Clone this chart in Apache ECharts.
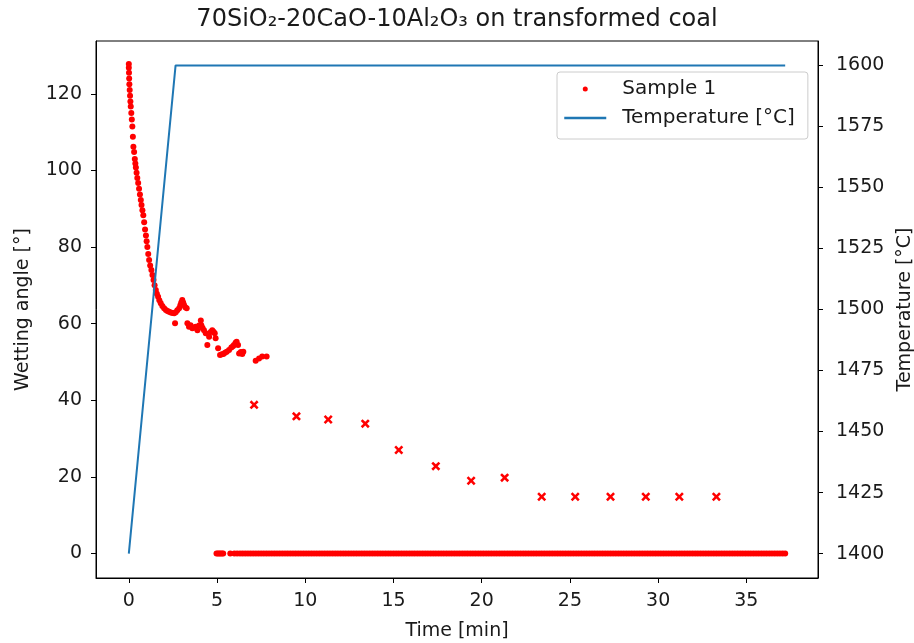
<!DOCTYPE html>
<html>
<head>
<meta charset="utf-8">
<script src="https://cdn.jsdelivr.net/npm/echarts@6/dist/echarts.min.js"></script>
<style>
  html, body { margin: 0; padding: 0; background: #ffffff; }
  #chart { width: 914px; height: 643px; }
</style>
</head>
<body>
<div id="chart"></div>
<script>
// Sample 1: wetting angle readings during the heating ramp and first minutes
const sampleTimes = [
  0.00, 0.00, 0.01, 0.02, 0.03, 0.05, 0.07, 0.09, 0.11, 0.14,
  0.17, 0.20, 0.23, 0.26, 0.30, 0.34, 0.37, 0.40, 0.44, 0.48,
  0.53, 0.58, 0.63, 0.68, 0.72, 0.77, 0.82, 0.87, 0.92, 0.97,
  1.01, 1.05, 1.10, 1.15, 1.21, 1.28, 1.34, 1.40, 1.46, 1.53,
  1.59, 1.66, 1.73, 1.81, 1.90, 2.00, 2.10, 2.19, 2.28, 2.38,
  2.48, 2.57, 2.62, 2.66, 2.75, 2.85, 2.92, 2.97, 3.03, 3.08,
  3.13, 3.20, 3.28, 3.32, 3.41, 3.50, 3.60, 3.70, 3.79, 3.89,
  3.98, 4.08, 4.11, 4.18, 4.26, 4.36, 4.45, 4.55, 4.64, 4.73,
  4.80, 4.87, 4.92, 5.06, 5.17, 5.27, 5.36, 5.45, 5.55, 5.68,
  5.81, 5.90, 5.96, 6.05, 6.11, 6.19, 6.25, 6.35, 6.43, 6.49,
  7.19, 7.38, 7.56, 7.81
];
const sampleAngles = [
  127.8, 126.8, 125.5, 124.0, 122.5, 121.0, 119.5, 118.0, 116.7, 115.0,
  113.3, 111.5, 108.8, 106.2, 104.8, 103.0, 101.8, 100.8, 99.4, 98.0,
  96.7, 95.2, 93.7, 92.3, 91.0, 89.6, 88.3, 86.5, 84.6, 83.0,
  81.5, 80.0, 78.2, 76.6, 75.2, 74.0, 72.7, 71.4, 70.0, 68.8,
  67.8, 67.0, 66.1, 65.3, 64.6, 64.0, 63.6, 63.3, 63.1, 62.9,
  62.8, 62.7, 60.1, 63.0, 63.5, 64.0, 64.8, 65.5, 66.2, 65.5,
  64.9, 64.3, 64.0, 60.1, 59.2, 59.6, 58.8, 59.0, 59.2, 58.3,
  59.5, 60.8, 59.6, 58.9, 58.3, 57.5, 54.4, 56.6, 57.8, 58.3,
  57.9, 57.5, 56.2, 53.6, 51.8, 52.0, 52.1, 52.4, 52.7, 53.1,
  53.8, 54.1, 54.4, 55.0, 55.3, 54.4, 52.2, 52.6, 52.1, 52.7,
  50.3, 50.9, 51.4, 51.4
];

// Sample 1: times at which the detected angle is zero (drop fully spread)
const zeroTimes = [
  4.97, 5.05, 5.12, 5.20, 5.28, 5.35, 5.75, 5.98, 6.14, 6.30,
  6.45, 6.6, 6.75, 6.9, 7.05, 7.2, 7.35, 7.5, 7.65, 7.8, 7.95,
  8.1, 8.25, 8.4, 8.55, 8.7, 8.85, 9.0, 9.15, 9.3, 9.45, 9.6, 9.75, 9.9,
  10.05, 10.2, 10.35, 10.5, 10.65, 10.8, 10.95, 11.1, 11.25, 11.4, 11.55, 11.7, 11.85,
  12.0, 12.15, 12.3, 12.45, 12.6, 12.75, 12.9, 13.05, 13.2, 13.35, 13.5, 13.65, 13.8, 13.95,
  14.1, 14.25, 14.4, 14.55, 14.7, 14.85, 15.0, 15.15, 15.3, 15.45, 15.6, 15.75, 15.9,
  16.05, 16.2, 16.35, 16.5, 16.65, 16.8, 16.95, 17.1, 17.25, 17.4, 17.55, 17.7, 17.85,
  18.0, 18.15, 18.3, 18.45, 18.6, 18.75, 18.9, 19.05, 19.2, 19.35, 19.5, 19.65, 19.8, 19.95,
  20.1, 20.25, 20.4, 20.55, 20.7, 20.85, 21.0, 21.15, 21.3, 21.45, 21.6, 21.75, 21.9,
  22.05, 22.2, 22.35, 22.5, 22.65, 22.8, 22.95, 23.1, 23.25, 23.4, 23.55, 23.7, 23.85,
  24.0, 24.15, 24.3, 24.45, 24.6, 24.75, 24.9, 25.05, 25.2, 25.35, 25.5, 25.65, 25.8, 25.95,
  26.1, 26.25, 26.4, 26.55, 26.7, 26.85, 27.0, 27.15, 27.3, 27.45, 27.6, 27.75, 27.9,
  28.05, 28.2, 28.35, 28.5, 28.65, 28.8, 28.95, 29.1, 29.25, 29.4, 29.55, 29.7, 29.85,
  30.0, 30.15, 30.3, 30.45, 30.6, 30.75, 30.9, 31.05, 31.2, 31.35, 31.5, 31.65, 31.8, 31.95,
  32.1, 32.25, 32.4, 32.55, 32.7, 32.85, 33.0, 33.15, 33.3, 33.45, 33.6, 33.75, 33.9,
  34.05, 34.2, 34.35, 34.5, 34.65, 34.8, 34.95, 35.1, 35.25, 35.4, 35.55, 35.7, 35.85,
  36.0, 36.15, 36.3, 36.45, 36.6, 36.75, 36.9, 37.05, 37.2
];

// Manually measured angles (cross markers)
const manualTimes = [7.1, 9.5, 11.3, 13.4, 15.3, 17.4, 19.4, 21.3, 23.4, 25.3, 27.3, 29.3, 31.2, 33.3];
const manualAngles = [38.8, 35.8, 35.0, 33.9, 27.0, 22.8, 19.0, 19.8, 14.8, 14.8, 14.8, 14.8, 14.8, 14.8];

// Furnace temperature programme
const tempTimes = [0, 2.65, 37.2];
const tempValues = [1400, 1600, 1600];

// Tick labels
const timeTicks = [0, 5, 10, 15, 20, 25, 30, 35];
const angleTicks = [0, 20, 40, 60, 80, 100, 120];
const tempTicks = [1400, 1425, 1450, 1475, 1500, 1525, 1550, 1575, 1600];

const zip = (xs, ys) => xs.map((x, i) => [x, ys[i]]);
const sampleData = zip(sampleTimes, sampleAngles).concat(zeroTimes.map(t => [t, 0]));
const manualData = zip(manualTimes, manualAngles);
const tempData = zip(tempTimes, tempValues);

const FONT = 'DejaVu Sans';
const INK = '#1a1a1a';
const crossPath = 'path://M2,0L5,3L8,0L10,2L7,5L10,8L8,10L5,7L2,10L0,8L3,5L0,2Z';
const plain = v => String(v);

const chart = echarts.init(document.getElementById('chart'), null, { renderer: 'canvas' });

const axisCommon = {
  axisLine: { show: true, onZero: false, lineStyle: { color: '#000', width: 1 } },
  axisTick: { show: true, inside: false, length: 5, lineStyle: { color: '#000', width: 1 } },
  splitLine: { show: false },
  nameTextStyle: { fontFamily: FONT, fontSize: 19, color: INK },
};

chart.setOption({
  animation: false,
  backgroundColor: '#ffffff',
  title: {
    text: '70SiO₂-20CaO-10Al₂O₃ on transformed coal',
    left: 'center',
    top: 3,
    textStyle: { fontFamily: FONT, fontSize: 24, fontWeight: 'normal', color: INK },
  },
  grid: {
    left: 96, right: 96, top: 41, bottom: 65,
    show: true, borderColor: '#000', borderWidth: 1,
    containLabel: false, outerBoundsMode: 'none',
  },
  legend: {
    orient: 'vertical',
    left: 557,
    top: 72,
    padding: [7, 13, 11, 6],
    itemWidth: 42,
    itemHeight: 5,
    itemGap: 9,
    backgroundColor: 'rgba(255,255,255,0.8)',
    borderColor: '#cccccc',
    borderWidth: 1,
    borderRadius: 3,
    textStyle: { fontFamily: FONT, fontSize: 20, color: INK, lineHeight: 20, padding: [0, 0, 0, 11] },
    data: [
      { name: 'Sample 1', icon: 'circle', itemStyle: { color: '#ff0000' } },
      { name: 'Temperature [°C]', itemStyle: { opacity: 0 }, lineStyle: { color: '#1f77b4', width: 2.5 } },
    ],
  },
  xAxis: Object.assign({}, axisCommon, {
    type: 'value',
    min: -1.86,
    max: 39.06,
    name: 'Time [min]',
    nameLocation: 'middle',
    nameGap: 44,
    axisLabel: { customValues: timeTicks, formatter: plain, margin: 14, fontFamily: FONT, fontSize: 19, color: INK },
    axisTick: Object.assign({}, axisCommon.axisTick, { customValues: timeTicks }),
  }),
  yAxis: [
    Object.assign({}, axisCommon, {
      type: 'value',
      position: 'left',
      min: -6.4,
      max: 133.8,
      name: 'Wetting angle [°]',
      nameLocation: 'middle',
      nameRotate: 90,
      nameGap: 63,
      axisLabel: { customValues: angleTicks, formatter: plain, margin: 14, fontFamily: FONT, fontSize: 19, color: INK },
      axisTick: Object.assign({}, axisCommon.axisTick, { customValues: angleTicks }),
    }),
    Object.assign({}, axisCommon, {
      type: 'value',
      position: 'right',
      min: 1390,
      max: 1610,
      name: 'Temperature [°C]',
      nameLocation: 'middle',
      nameRotate: 90,
      nameGap: 67,
      axisLabel: { customValues: tempTicks, formatter: plain, margin: 18, fontFamily: FONT, fontSize: 19, color: INK },
      axisTick: Object.assign({}, axisCommon.axisTick, { customValues: tempTicks }),
    }),
  ],
  series: [
    {
      name: 'Sample 1',
      type: 'scatter',
      yAxisIndex: 0,
      symbol: 'circle',
      symbolSize: 6,
      itemStyle: { color: '#ff0000', opacity: 1 },
      data: sampleData,
      z: 2,
    },
    {
      name: 'manual',
      type: 'scatter',
      yAxisIndex: 0,
      symbol: crossPath,
      symbolSize: 9,
      itemStyle: { color: '#ff0000', opacity: 1 },
      data: manualData,
      z: 2,
    },
    {
      name: 'Temperature [°C]',
      type: 'line',
      yAxisIndex: 1,
      symbol: 'none',
      lineStyle: { color: '#1f77b4', width: 2 },
      itemStyle: { color: '#1f77b4' },
      data: tempData,
      z: 3,
    },
  ],
});
</script>
</body>
</html>
